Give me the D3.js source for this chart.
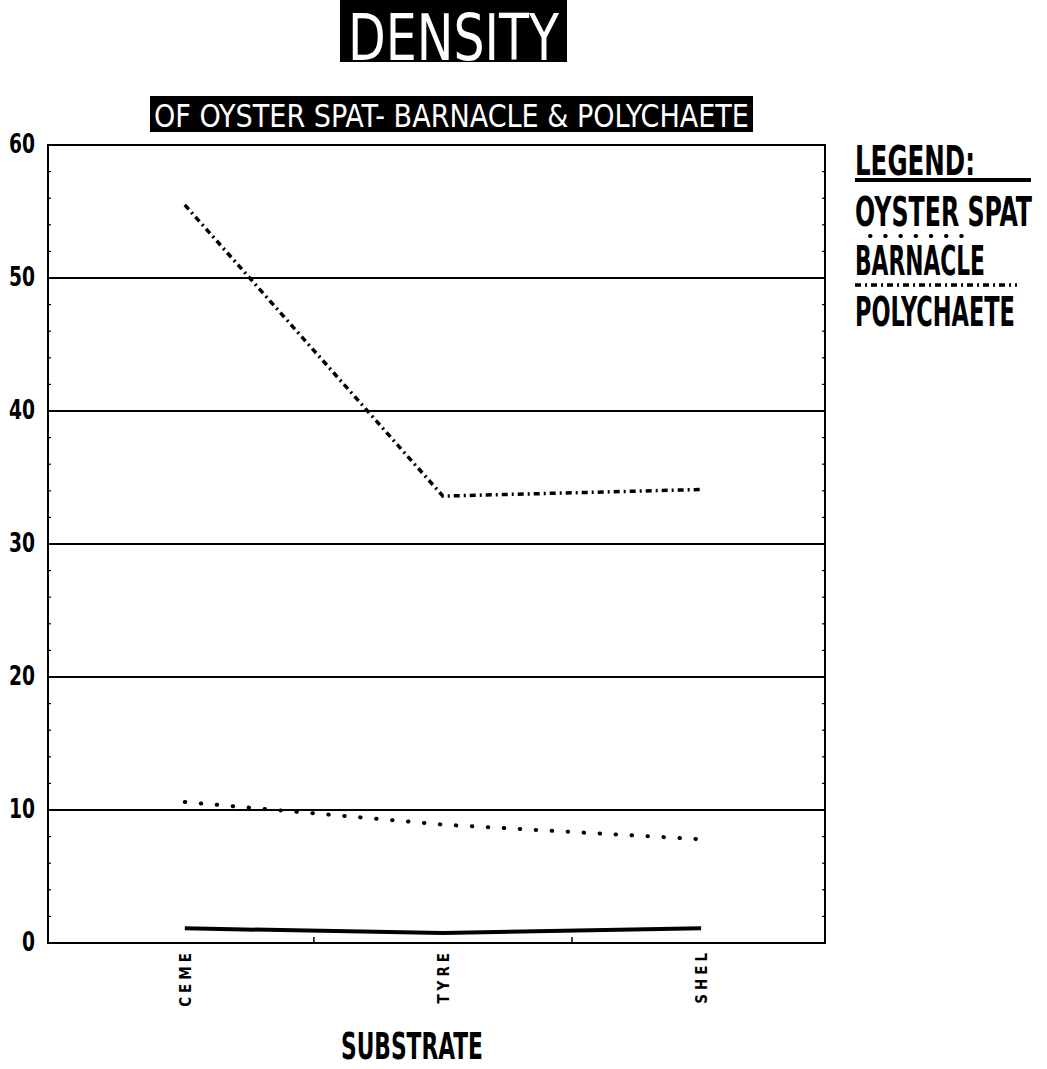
<!DOCTYPE html>
<html>
<head>
<meta charset="utf-8">
<script src="https://cdn.jsdelivr.net/npm/d3@7"></script>
<style>
  html, body { margin: 0; padding: 0; background: #fff; }
  svg { display: block; }
  text { font-family: "DejaVu Sans Condensed", "DejaVu Sans", sans-serif; }
</style>
</head>
<body>
<svg id="chart" width="1047" height="1069"></svg>
<script>
// ---- data ----
const categories = ["CEME", "TYRE", "SHEL"];
const oysterSpat = [1.1, 0.75, 1.1];
const barnacle = [10.6, 8.9, 7.8];
const polychaete = [55.5, 33.6, 34.1];
const yTicks = [0, 10, 20, 30, 40, 50, 60];
const yTickLabels = ["0", "10", "20", "30", "40", "50", "60"];
const titleText = "DENSITY";
const subtitleText = "OF OYSTER SPAT- BARNACLE & POLYCHAETE";
const xAxisTitle = "SUBSTRATE";
const legendTitle = "LEGEND:";
const seriesNames = ["OYSTER SPAT", "BARNACLE", "POLYCHAETE"];

// ---- layout ----
const svg = d3.select("#chart");
const plot = { left: 48, right: 825, top: 145, bottom: 943 };

const x = d3.scaleLinear().domain([-0.53, 2.48]).range([plot.left, plot.right]);
const y = d3.scaleLinear().domain([0, 60]).range([plot.bottom, plot.top]);

// place a text at (x, y) and squeeze it horizontally to the wanted width
function fitText(parent, str, tx, ty, width, size, opts = {}) {
  const g = parent.append("g");
  const t = g.append("text").attr("font-size", size).text(str);
  if (opts.bold) t.attr("font-weight", "bold");
  if (opts.fill) t.attr("fill", opts.fill);
  if (opts.spacing) t.attr("letter-spacing", opts.spacing);
  const w = t.node().getComputedTextLength();
  const k = width / w;
  g.attr("transform", `translate(${tx},${ty}) scale(${k},1)`);
  return t;
}

// title
svg.append("rect").attr("x", 340).attr("y", 0).attr("width", 227).attr("height", 62).attr("fill", "#000");
fitText(svg, titleText, 348, 60, 211, 64, { fill: "#fff" });

// subtitle
svg.append("rect").attr("x", 150).attr("y", 96).attr("width", 603).attr("height", 36).attr("fill", "#000");
fitText(svg, subtitleText, 154, 127, 595, 32, { fill: "#fff" });

// grid lines
svg.append("g").selectAll("line").data(yTicks.filter(d => d > 0 && d < 60)).join("line")
  .attr("x1", plot.left).attr("x2", plot.right)
  .attr("y1", d => y(d)).attr("y2", d => y(d))
  .attr("stroke", "#000").attr("stroke-width", 2);

// frame
svg.append("rect").attr("x", plot.left).attr("y", plot.top)
  .attr("width", plot.right - plot.left).attr("height", plot.bottom - plot.top)
  .attr("fill", "none").attr("stroke", "#000").attr("stroke-width", 2);

// minor ticks on left and right sides
const minor = d3.range(2, 60, 2).filter(d => d % 10 !== 0);
svg.append("g").selectAll("line").data(minor).join("line")
  .attr("x1", plot.left).attr("x2", plot.left + 3)
  .attr("y1", d => y(d)).attr("y2", d => y(d))
  .attr("stroke", "#000").attr("stroke-width", 1.2);
svg.append("g").selectAll("line").data(minor).join("line")
  .attr("x1", plot.right - 3).attr("x2", plot.right)
  .attr("y1", d => y(d)).attr("y2", d => y(d))
  .attr("stroke", "#000").attr("stroke-width", 1.2);

// y labels
yTicks.forEach((d, i) => {
  const lab = yTickLabels[i];
  const w = lab.length === 1 ? 13 : 26;
  fitText(svg, lab, 35 - w, y(d) + 8, w, 26, { bold: true });
});

// x tick marks between categories
svg.append("g").selectAll("line").data([0.5, 1.5]).join("line")
  .attr("x1", d => x(d)).attr("x2", d => x(d))
  .attr("y1", plot.bottom).attr("y2", plot.bottom - 6)
  .attr("stroke", "#000").attr("stroke-width", 1.5);

// x category labels (rotated)
svg.append("g").selectAll("text").data(categories).join("text")
  .attr("transform", (d, i) => `translate(${x(i) + 6},949) rotate(-90)`)
  .attr("text-anchor", "end").attr("font-size", 15).attr("font-weight", "bold")
  .attr("letter-spacing", 4)
  .text(d => d);

// x axis title
fitText(svg, xAxisTitle, 341, 1059, 142, 37, { bold: true });

// series lines
const line = d3.line().x((d, i) => x(i)).y(d => y(d));
svg.append("path").datum(oysterSpat).attr("d", line)
  .attr("fill", "none").attr("stroke", "#000").attr("stroke-width", 4);
svg.append("path").datum(barnacle).attr("d", line)
  .attr("fill", "none").attr("stroke", "#000").attr("stroke-width", 4)
  .attr("stroke-linecap", "round").attr("stroke-dasharray", "0.5,15.5");
svg.append("path").datum(polychaete).attr("d", line)
  .attr("fill", "none").attr("stroke", "#000").attr("stroke-width", 3.5)
  .attr("stroke-dasharray", "6,4,2,4");

// legend
const lg = svg.append("g");
fitText(lg, legendTitle, 855, 175, 120, 40, { bold: true });
const legY = [226, 275, 326];
const legLen = [177, 130, 160];
seriesNames.forEach((name, i) => fitText(lg, name, 855, legY[i], legLen[i], 40, { bold: true }));
// legend samples: each sits above its label
lg.append("line").attr("x1", 855).attr("x2", 1031).attr("y1", 180).attr("y2", 180)
  .attr("stroke", "#000").attr("stroke-width", 4);
lg.append("line").attr("x1", 870).attr("x2", 976).attr("y1", 236).attr("y2", 236)
  .attr("stroke", "#000").attr("stroke-width", 4).attr("stroke-linecap", "round")
  .attr("stroke-dasharray", "0.5,14.7");
lg.append("line").attr("x1", 855).attr("x2", 1017).attr("y1", 285).attr("y2", 285)
  .attr("stroke", "#000").attr("stroke-width", 3.5).attr("stroke-dasharray", "6,4,2,4");
</script>
</body>
</html>
